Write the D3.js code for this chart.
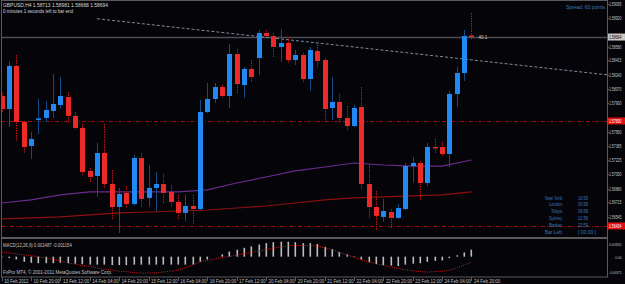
<!DOCTYPE html>
<html>
<head>
<meta charset="utf-8">
<script src="https://cdn.jsdelivr.net/npm/d3@7"></script>
<style>
  html, body { margin: 0; padding: 0; background: #050509; }
  svg { display: block; }
</style>
</head>
<body>
<script>
// GBPUSD H4, bars from 10 Feb 04:00 up to 24 Feb 20:00 (last bar is still open)
const opens = [1.57989, 1.57833, 1.58348, 1.57678, 1.57391, 1.57708, 1.57726, 1.57809, 1.57881, 1.57977,
  1.57750, 1.57606, 1.57092, 1.57032, 1.57307, 1.56936, 1.56661, 1.56829, 1.56697, 1.57247,
  1.56769, 1.56889, 1.56936, 1.56841, 1.56721, 1.56590, 1.56673, 1.56637, 1.57797, 1.57953,
  1.58096, 1.57989, 1.58491, 1.58120, 1.58312, 1.58443, 1.58742, 1.58706, 1.58575, 1.58623,
  1.58419, 1.58479, 1.58192, 1.58527, 1.58419, 1.57845, 1.57917, 1.57726, 1.57630, 1.57857,
  1.56936, 1.56661, 1.56542, 1.56601, 1.56530, 1.56637, 1.57151, 1.57187, 1.56948, 1.57379,
  1.57379, 1.57295, 1.58013, 1.58264, 1.58713];
const highs = [1.58025, 1.58407, 1.58479, 1.57690, 1.57558, 1.57953, 1.57929, 1.58252, 1.58216, 1.58037,
  1.57797, 1.57654, 1.57128, 1.57427, 1.57654, 1.57104, 1.56889, 1.56912, 1.57283, 1.57307,
  1.57163, 1.57080, 1.57056, 1.56924, 1.56805, 1.56805, 1.56805, 1.57941, 1.58144, 1.58144,
  1.58120, 1.58611, 1.58551, 1.58336, 1.58419, 1.58778, 1.58778, 1.58742, 1.58790, 1.58694,
  1.58539, 1.58503, 1.58575, 1.58635, 1.58443, 1.58216, 1.58013, 1.57869, 1.57881, 1.58096,
  1.57175, 1.56853, 1.56757, 1.56637, 1.56697, 1.57187, 1.57259, 1.57211, 1.57427, 1.57475,
  1.57439, 1.58049, 1.58336, 1.58778, 1.58981];
const lows = [1.57797, 1.57618, 1.57451, 1.57307, 1.57235, 1.57534, 1.57678, 1.57726, 1.57833, 1.57666,
  1.57582, 1.57044, 1.56948, 1.56781, 1.56889, 1.56518, 1.56350, 1.56649, 1.56673, 1.56661,
  1.56661, 1.56613, 1.56709, 1.56661, 1.56518, 1.56494, 1.56446, 1.56625, 1.57786, 1.57905,
  1.57965, 1.57845, 1.58025, 1.57965, 1.58156, 1.58240, 1.58694, 1.58455, 1.58396, 1.58384,
  1.58360, 1.58156, 1.58049, 1.58324, 1.57678, 1.57702, 1.57666, 1.57582, 1.57618, 1.56865,
  1.56530, 1.56386, 1.56482, 1.56410, 1.56518, 1.56625, 1.56948, 1.56745, 1.56912, 1.57307,
  1.57271, 1.57139, 1.57857, 1.58168, 1.58668];
const closes = [1.57833, 1.58348, 1.57678, 1.57379, 1.57475, 1.57720, 1.57821, 1.57893, 1.57989, 1.57750,
  1.57606, 1.57080, 1.57020, 1.57307, 1.56936, 1.56661, 1.56817, 1.56697, 1.57247, 1.56757,
  1.56889, 1.56936, 1.56829, 1.56721, 1.56590, 1.56673, 1.56637, 1.57797, 1.57953, 1.58096,
  1.57989, 1.58491, 1.58132, 1.58312, 1.58216, 1.58742, 1.58706, 1.58575, 1.58623, 1.58419,
  1.58479, 1.58192, 1.58539, 1.58407, 1.57833, 1.57917, 1.57726, 1.57630, 1.57845, 1.56936,
  1.56661, 1.56554, 1.56613, 1.56530, 1.56649, 1.57151, 1.57187, 1.56948, 1.57379, 1.57367,
  1.57295, 1.58013, 1.58264, 1.58706, 1.58694];

// time axis: one label every 4 bars
const timeLabels = ["10 Feb 2012", "10 Feb 20:00", "13 Feb 12:00", "14 Feb 04:00", "14 Feb 20:00",
  "15 Feb 12:00", "16 Feb 04:00", "16 Feb 20:00", "17 Feb 12:00", "20 Feb 04:00", "20 Feb 20:00",
  "21 Feb 12:00", "22 Feb 04:00", "22 Feb 20:00", "23 Feb 12:00", "24 Feb 04:00", "24 Feb 20:00"];

// price scale labels
const priceTicks = [1.59095, 1.58920, 1.58750, 1.58580, 1.58415, 1.58240, 1.58070, 1.57900, 1.57727,
  1.57560, 1.57385, 1.57225, 1.57050, 1.56880, 1.56715, 1.56545, 1.56380];

// moving averages, read every 4 bars
const maBars = [0, 4, 8, 12, 16, 20, 24, 28, 32, 36, 40, 44, 48, 52, 56, 60, 64];
const maPurple = [1.56709, 1.56745, 1.56805, 1.56841, 1.56841, 1.56841, 1.56841, 1.56865, 1.56948,
  1.57020, 1.57092, 1.57139, 1.57187, 1.57163, 1.57151, 1.57151, 1.57223];
const maRed = [1.56518, 1.56530, 1.56542, 1.56566, 1.56590, 1.56601, 1.56613, 1.56625, 1.56649,
  1.56673, 1.56709, 1.56745, 1.56769, 1.56781, 1.56793, 1.56805, 1.56841];

// horizontal levels and the trend line
const bidPrice = 1.58694;
const redLevels = [1.57690, 1.56434];
const trendBars = [13, 54];
const trendPrices = [1.58913, 1.58517];

// MACD(12,26,9): histogram (main) and dotted signal
const macdMain = [-0.0001, -0.0003, -0.0006, -0.0011, -0.0013, -0.0014, -0.0014, -0.0014, -0.0013, -0.0014,
  -0.0015, -0.0016, -0.0017, -0.0017, -0.0017, -0.0018, -0.0018, -0.0018, -0.0017, -0.0017,
  -0.0017, -0.0017, -0.0017, -0.0017, -0.0017, -0.0017, -0.0017, -0.0011, -0.0006, 0.0000,
  0.0005, 0.0011, 0.0015, 0.0019, 0.0022, 0.0026, 0.0029, 0.0031, 0.0032, 0.0032,
  0.0031, 0.0029, 0.0029, 0.0027, 0.0021, 0.0016, 0.0010, 0.0005, 0.0001, -0.0006,
  -0.0012, -0.0016, -0.0018, -0.0019, -0.0020, -0.0017, -0.0015, -0.0014, -0.0011, -0.0009,
  -0.0008, -0.0003, 0.0003, 0.0009, 0.0015];
const macdSignal = [0.0010, 0.0008, 0.0006, 0.0004, 0.0002, 0.0000, -0.0003, -0.0006, -0.0009, -0.0013,
  -0.0016, -0.0019, -0.0021, -0.0024, -0.0027, -0.0029, -0.0031, -0.0032, -0.0034, -0.0035,
  -0.0035, -0.0035, -0.0033, -0.0031, -0.0029, -0.0024, -0.0018, -0.0011, -0.0008, -0.0005,
  -0.0002, 0.0000, 0.0003, 0.0006, 0.0009, 0.0012, 0.0015, 0.0018, 0.0021, 0.0023,
  0.0024, 0.0024, 0.0024, 0.0023, 0.0019, 0.0015, 0.0010, 0.0004, -0.0001, -0.0007,
  -0.0011, -0.0015, -0.0019, -0.0022, -0.0025, -0.0028, -0.0030, -0.0032, -0.0033, -0.0032,
  -0.0031, -0.0029, -0.0024, -0.0018, -0.0012];
const macdTicks = [0.003355, 0.0, -0.00371];
const macdTickText = ["0.003355", "0.00", "-0.00371"];

const sessionNames = ["New York:", "London:", "Tokyo:", "Sydney:", "Broker:", "Bar Left:"];
const sessionTimes = ["19:59", "00:59", "09:59", "11:59", "23:59", "[ 00:00 ]"];

const W = 625, H = 284;
const main = { left: 1, right: 607, top: 1, bottom: 237 };
const sub = { top: 239, bottom: 277 };
const barStep = 7.34;
const axisEnd = 621.5; // right edge of the price labels

const bg = "#050509";
const frame = "#5a5a5a";
const bullBody = "#2289f2", bullWick = "#134a80";
const bearBody = "#ec2a2a", bearWick = "#c01414";
const axisText = "#c4c4c4";
const infoBlue = "#3f78b4";

// squeeze a text to a fixed pixel width per character, like the small terminal font
function fit(sel, perChar) {
  sel.attr("textLength", function () { return this.textContent.length * perChar; })
    .attr("lengthAdjust", "spacingAndGlyphs");
  return sel;
}

const svg = d3.select("body").append("svg")
  .attr("width", W).attr("height", H)
  .style("font-family", "'Liberation Sans', Arial, sans-serif");

svg.append("rect").attr("width", W).attr("height", H).attr("fill", bg);

const x = d3.scaleLinear().domain([0, 82]).range([1.7, 1.7 + 82 * barStep]);
const y = d3.scaleLinear().domain([1.56302, 1.59137]).range([main.bottom, 0]);
const yM = d3.scaleLinear().domain([-0.00371, 0.003355]).range([274, 241]);

const defs = svg.append("defs");
defs.append("clipPath").attr("id", "clipMain").append("rect")
  .attr("x", main.left).attr("y", main.top)
  .attr("width", main.right - main.left).attr("height", main.bottom - main.top);
defs.append("clipPath").attr("id", "clipSub").append("rect")
  .attr("x", main.left).attr("y", sub.top)
  .attr("width", main.right - main.left).attr("height", sub.bottom - sub.top);

const gMain = svg.append("g").attr("clip-path", "url(#clipMain)");
const gSub = svg.append("g").attr("clip-path", "url(#clipSub)");

// red dash-dot levels
gMain.selectAll("line.level").data(redLevels).join("line")
  .attr("class", "level")
  .attr("x1", main.left).attr("x2", main.right)
  .attr("y1", d => Math.round(y(d)) + 0.5).attr("y2", d => Math.round(y(d)) + 0.5)
  .attr("stroke", "#9a0e0e").attr("stroke-width", 1)
  .attr("stroke-dasharray", "4,2,1,2");

// bid line
gMain.append("line")
  .attr("x1", main.left).attr("x2", main.right)
  .attr("y1", Math.round(y(bidPrice)) + 0.5).attr("y2", Math.round(y(bidPrice)) + 0.5)
  .attr("stroke", "#4c4c52").attr("stroke-width", 1.6);

// trend line, extended to the right border
const slope = (y(trendPrices[1]) - y(trendPrices[0])) / (x(trendBars[1]) - x(trendBars[0]));
const tx0 = x(trendBars[0]), ty0 = y(trendPrices[0]);
gMain.append("line")
  .attr("x1", tx0).attr("y1", ty0)
  .attr("x2", main.right).attr("y2", ty0 + slope * (main.right - tx0))
  .attr("stroke", "#7d8c9a").attr("stroke-width", 1)
  .attr("stroke-dasharray", "3,2");

// moving averages
const maLine = d3.line().x(d => x(d[0])).y(d => y(d[1]));
gMain.append("path")
  .attr("d", maLine(maBars.map((b, i) => [b, maPurple[i]])))
  .attr("fill", "none").attr("stroke", "#6a2a8c").attr("stroke-width", 1.2);
gMain.append("path")
  .attr("d", maLine(maBars.map((b, i) => [b, maRed[i]])))
  .attr("fill", "none").attr("stroke", "#8c1010").attr("stroke-width", 1.2);

// candles
const bars = opens.map((o, i) => ({ i, o, h: highs[i], l: lows[i], c: closes[i], up: closes[i] >= o }));

const candle = gMain.selectAll("g.candle").data(bars).join("g").attr("class", "candle");

candle.append("line")
  .attr("x1", d => Math.round(x(d.i)) + 0.5).attr("x2", d => Math.round(x(d.i)) + 0.5)
  .attr("y1", d => y(d.h)).attr("y2", d => y(d.l))
  .attr("stroke", d => d.up ? bullWick : bearWick)
  .attr("stroke-width", 1)
  .attr("stroke-dasharray", d => d.up ? null : "1.5,1");

candle.append("rect")
  .attr("x", d => Math.round(x(d.i)) - 2)
  .attr("width", 5)
  .attr("y", d => Math.min(y(d.o), y(d.c)))
  .attr("height", d => Math.max(1.5, Math.abs(y(d.o) - y(d.c))))
  .attr("fill", d => d.up ? bullBody : bearBody);

// frames
svg.append("rect")
  .attr("x", main.left + 0.5).attr("y", main.top - 0.5)
  .attr("width", main.right - main.left).attr("height", main.bottom - main.top + 1)
  .attr("fill", "none").attr("stroke", frame);
svg.append("rect")
  .attr("x", main.left + 0.5).attr("y", sub.top - 0.5)
  .attr("width", main.right - main.left).attr("height", sub.bottom - sub.top + 0.5)
  .attr("fill", "none").attr("stroke", frame);

// price axis
const boxLabels = [{ v: bidPrice, fill: "#c8c8c8", text: "#000" },
  ...redLevels.map(v => ({ v, fill: "#e01010", text: "#fff" }))];
const freeTicks = priceTicks.filter(v => boxLabels.every(b => Math.abs(y(v) - y(b.v)) > 7));

const pAxis = svg.append("g").attr("font-size", 4.6).attr("fill", axisText);
pAxis.selectAll("line").data(freeTicks).join("line")
  .attr("x1", main.right).attr("x2", main.right + 2)
  .attr("y1", d => Math.round(y(d)) + 0.5).attr("y2", d => Math.round(y(d)) + 0.5)
  .attr("stroke", frame);
fit(pAxis.selectAll("text").data(freeTicks).join("text")
  .attr("x", axisEnd).attr("y", d => Math.max(6, y(d) + 2))
  .attr("text-anchor", "end")
  .text(d => d.toFixed(5)), 1.8);

const box = svg.selectAll("g.box").data(boxLabels).join("g").attr("class", "box");
box.append("rect")
  .attr("x", main.right + 1).attr("y", d => y(d.v) - 3.5)
  .attr("width", W - main.right - 1).attr("height", 7)
  .attr("fill", d => d.fill);
fit(box.append("text")
  .attr("x", axisEnd).attr("y", d => y(d.v) + 2)
  .attr("text-anchor", "end")
  .attr("font-size", 4.6).attr("fill", d => d.text)
  .text(d => d.v.toFixed(5)), 1.8);

// MACD window
gSub.selectAll("rect.hist").data(macdMain).join("rect")
  .attr("class", "hist")
  .attr("x", (d, i) => Math.round(x(i)) - 0.5)
  .attr("width", 1.6)
  .attr("y", d => Math.min(yM(d), yM(0)))
  .attr("height", d => Math.abs(yM(d) - yM(0)))
  .attr("fill", "#bdbdbd");
gSub.append("path")
  .attr("d", d3.line().x((d, i) => x(i)).y(d => yM(d))(macdSignal))
  .attr("fill", "none").attr("stroke", "#d01818").attr("stroke-width", 1)
  .attr("stroke-dasharray", "1,1.2");

const mAxis = svg.append("g").attr("font-size", 4).attr("fill", axisText);
fit(mAxis.selectAll("text").data(macdTicks).join("text")
  .attr("x", axisEnd).attr("y", d => Math.min(Math.max(yM(d) + 2, 245.5), 274))
  .attr("text-anchor", "end")
  .text((d, i) => macdTickText[i]), 1.55);

fit(svg.append("text").attr("x", 3).attr("y", 246.5).attr("font-size", 5).attr("fill", axisText)
  .text("MACD(12,26,9) 0.001487 -0.001154"), 2.15);
fit(svg.append("text").attr("x", 3).attr("y", 274).attr("font-size", 5).attr("fill", axisText)
  .text("FxPro MT4, © 2001-2011 MetaQuotes Software Corp."), 2.27);

// time axis
const tAxis = svg.append("g").attr("font-size", 5).attr("fill", axisText);
tAxis.selectAll("line").data(timeLabels).join("line")
  .attr("x1", (d, k) => Math.round(x(k * 4)) + 0.5).attr("x2", (d, k) => Math.round(x(k * 4)) + 0.5)
  .attr("y1", sub.bottom).attr("y2", sub.bottom + 4)
  .attr("stroke", frame);
fit(tAxis.selectAll("text").data(timeLabels).join("text")
  .attr("x", (d, k) => x(k * 4) + 2.5).attr("y", 282.5)
  .text(d => d), 2.2);

// header
fit(svg.append("text").attr("x", 3).attr("y", 6.5).attr("font-size", 5).attr("fill", "#d8d8d8")
  .text("GBPUSD,H4  1.58713 1.58981 1.58668 1.58694"), 2.5);
fit(svg.append("text").attr("x", 3).attr("y", 12.5).attr("font-size", 5).attr("fill", "#d8d8d8")
  .text("0 minutes 1 seconds left to bar end"), 2.0);
fit(svg.append("text").attr("x", 566).attr("y", 8.5).attr("font-size", 5).attr("fill", infoBlue)
  .text("Spread: 60 points"), 2.3);
fit(svg.append("text").attr("x", x(64) + 7).attr("y", y(bidPrice) + 2).attr("font-size", 5).attr("fill", "#c8c8c8")
  .text("40.1"), 2.2);

// session clock
const sess = svg.append("g").attr("font-size", 5).attr("fill", infoBlue);
fit(sess.selectAll("text.n").data(sessionNames).join("text").attr("class", "n")
  .attr("x", 563).attr("y", (d, i) => 199.5 + i * 6.8).attr("text-anchor", "end").text(d => d), 2.0);
fit(sess.selectAll("text.t").data(sessionTimes).join("text").attr("class", "t")
  .attr("x", 578).attr("y", (d, i) => 199.5 + i * 6.8).text(d => d), 2.0);
</script>
</body>
</html>
